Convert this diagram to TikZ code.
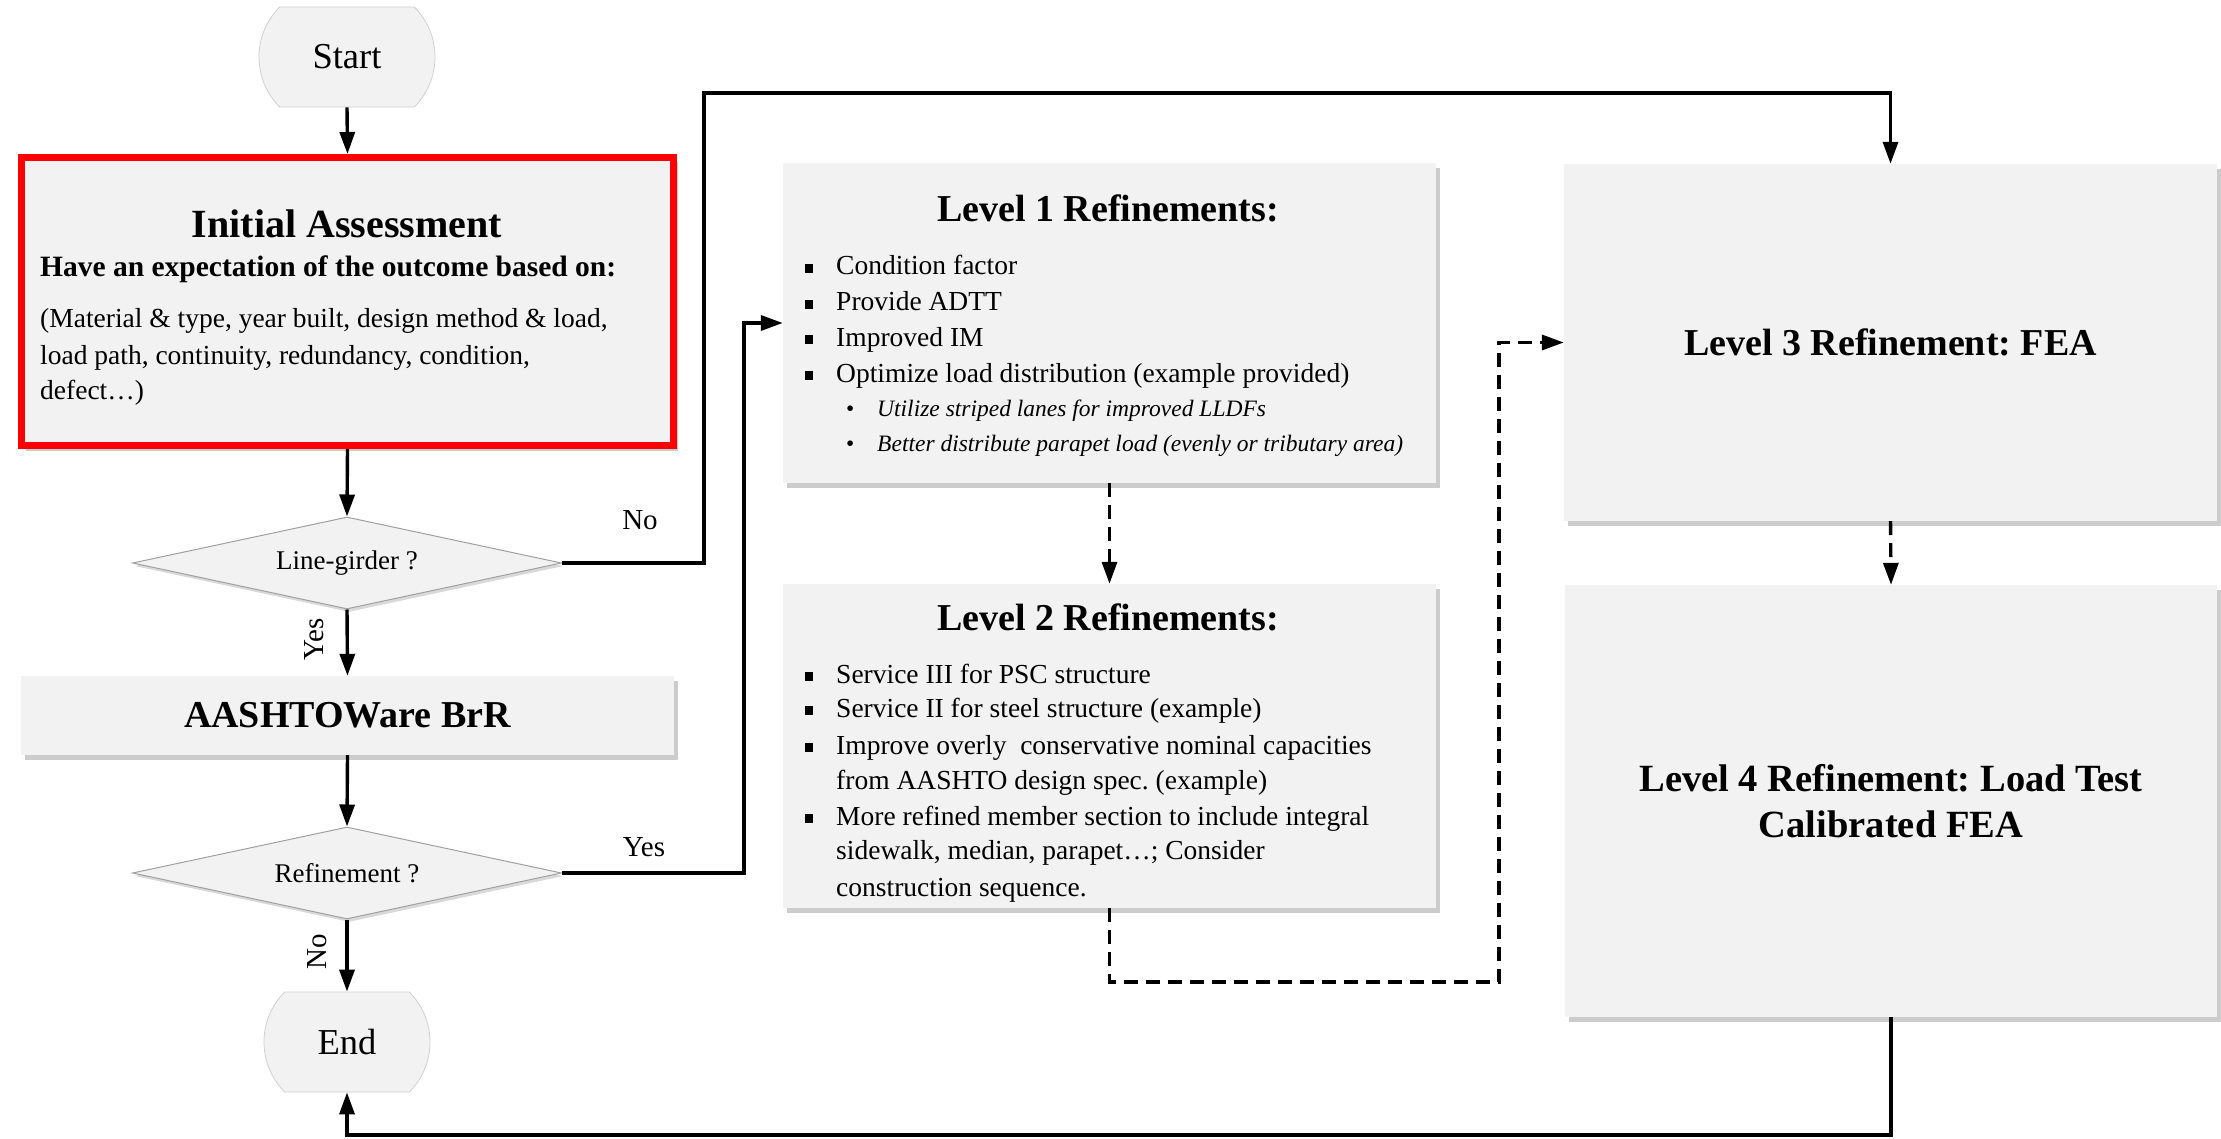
\documentclass[tikz,border=0pt]{standalone}
\usepackage{fontspec}
\setmainfont{Liberation Serif}
\usetikzlibrary{shapes.geometric,shapes.misc,arrows.meta,shadows}
\definecolor{boxgray}{HTML}{F2F2F2}
\definecolor{termline}{HTML}{D0D0D0}
\definecolor{decline}{HTML}{A0A0A0}
\definecolor{redline}{HTML}{FF0000}
\newcommand\fsz[2]{\fontsize{#1}{#2}\selectfont}
\newcommand\sqb{\rule[2pt]{8pt}{9pt}}
\frenchspacing
\begin{document}
\begin{tikzpicture}[x=1pt,y=-1pt,
  shad/.style={drop shadow={shadow xshift=4pt,shadow yshift=-5pt,opacity=0.4,fill=black!50}},
  box/.style={rectangle,fill=boxgray,draw=none,shad,inner sep=0pt},
  term/.style={rounded rectangle,rounded rectangle arc length=90,fill=boxgray,draw=termline,line width=0.8pt,minimum height=100pt,inner sep=0pt,font=\fsz{36.5}{42}},
  dec/.style={diamond,shape aspect=4.66,fill=boxgray,draw=decline,line width=1pt,minimum width=429pt,minimum height=92pt,inner sep=0pt,font=\fsz{27}{32},drop shadow={shadow xshift=2pt,shadow yshift=-3pt,opacity=0.3,fill=black!50}},
  arr/.style={line width=3.4pt,-{Triangle[length=22pt,width=15pt]}},
  darr/.style={arr,dash pattern=on 14pt off 8pt},
  lbl/.style={font=\fsz{29}{34},inner sep=0pt},
  ttl/.style={font=\bfseries\fsz{38}{46},inner sep=0pt,align=center},
  txt/.style={font=\fsz{27.5}{34},inner sep=0pt,anchor=base west},
  itxt/.style={font=\itshape\fsz{23.5}{30},inner sep=0pt,anchor=base west},
  bul/.style={font=\fsz{27.5}{34},inner sep=0pt,anchor=base west}
]
\useasboundingbox (0,0) rectangle (2221,1139);

% left column
\node[term,minimum width=176pt] (start) at (347,57) {Start};
\node[box,draw=redline,line width=7pt,minimum width=652pt,minimum height=288pt] (ib) at (347.5,301.5) {};
\node[ttl,anchor=base,font=\bfseries\fsz{40}{46}] (ibt) at (347,238) {Initial Assessment};
\node[txt,font=\bfseries\fsz{29.5}{34}] (ib1) at (40,277) {Have an expectation of the outcome based on:};
\node[txt] (ib2) at (40,328) {(Material \& type, year built, design method \& load,};
\node[txt] (ib3) at (40,364) {load path, continuity, redundancy, condition,};
\node[txt] (ib4) at (40,399) {defect…)};

\node[dec] (lg) at (347,563) {Line-girder ?};
\node[box,minimum width=653pt,minimum height=79pt,font=\bfseries\fsz{38}{46}] (aash) at (347.5,715.5) {AASHTOWare BrR};
\node[dec] (ref) at (347,873) {Refinement ?};
\node[term,minimum width=166pt] (endn) at (347,1042) {End};

% level 1
\node[box,minimum width=653pt,minimum height=320pt] (l1) at (1109.5,323) {};
\node[ttl,anchor=base] (l1t) at (1108,222) {Level 1 Refinements:};
\node[bul] (l1b1) at (805,275) {\sqb};
\node[txt] (l1i1) at (836,275) {Condition factor};
\node[bul] (l1b2) at (805,311) {\sqb};
\node[txt] (l1i2) at (836,311) {Provide ADTT};
\node[bul] (l1b3) at (805,346) {\sqb};
\node[txt] (l1i3) at (836,346) {Improved IM};
\node[bul] (l1b4) at (805,382) {\sqb};
\node[txt] (l1i4) at (836,382) {Optimize load distribution (example provided)};
\node[itxt,font=\fsz{23.5}{30}] (l1b5) at (846,416) {•};
\node[itxt] (l1i5) at (877,416) {Utilize striped lanes for improved LLDFs};
\node[itxt,font=\fsz{23.5}{30}] (l1b6) at (846,451) {•};
\node[itxt] (l1i6) at (877,451) {Better distribute parapet load (evenly or tributary area)};

% level 2
\node[box,minimum width=653pt,minimum height=324pt] (l2) at (1109.5,746) {};
\node[ttl,anchor=base] (l2t) at (1108,630) {Level 2 Refinements:};
\node[bul] (l2b1) at (805,683) {\sqb};
\node[txt] (l2i1) at (836,683) {Service III for PSC structure};
\node[bul] (l2b2) at (805,717) {\sqb};
\node[txt] (l2i2) at (836,717) {Service II for steel structure (example)};
\node[bul] (l2b3) at (805,754) {\sqb};
\node[txt] (l2i3) at (836,754) {Improve overly\ \ conservative nominal capacities};
\node[txt] (l2i4) at (836,789) {from AASHTO design spec. (example)};
\node[bul] (l2b5) at (805,825) {\sqb};
\node[txt] (l2i5) at (836,825) {More refined member section to include integral};
\node[txt] (l2i6) at (836,859) {sidewalk, median, parapet…; Consider};
\node[txt] (l2i7) at (836,896) {construction sequence.};

% level 3 and 4
\node[box,minimum width=653pt,minimum height=357pt,font=\bfseries\fsz{38}{46}] (l3) at (1890.5,342.5) {Level 3 Refinement: FEA};
\node[box,minimum width=652pt,minimum height=432pt,font=\bfseries\fsz{38.5}{46},align=center] (l4) at (1891,801) {Level 4 Refinement: Load Test\\Calibrated FEA};

% connectors
\draw[arr] (start.south) -- (ib.north);
\draw[arr] (ib.south) -- (lg.north);
\draw[arr] (lg.south) -- (aash.north);
\draw[arr] (aash.south) -- (ref.north);
\draw[arr] (ref.south) -- (endn.north);
\draw[arr] (lg.east) -| (704,93) -| (l3.north);
\draw[arr] (ref.east) -| (744,323) -- (l1.west);
\draw[darr] (l1.south) -- (l2.north);
\draw[darr] (l2.south) |- (1499,982) |- (l3.west);
\draw[darr] (l3.south) -- (l4.north);
\draw[arr] (l4.south) |- (347,1135) -- (endn.south);

% labels
\node[lbl] (noA) at (640,520) {No};
\node[lbl,rotate=90] (yesA) at (314,639) {Yes};
\node[lbl] (yesB) at (644,847) {Yes};
\node[lbl,rotate=90] (noB) at (317,952) {No};
\end{tikzpicture}
\end{document}
